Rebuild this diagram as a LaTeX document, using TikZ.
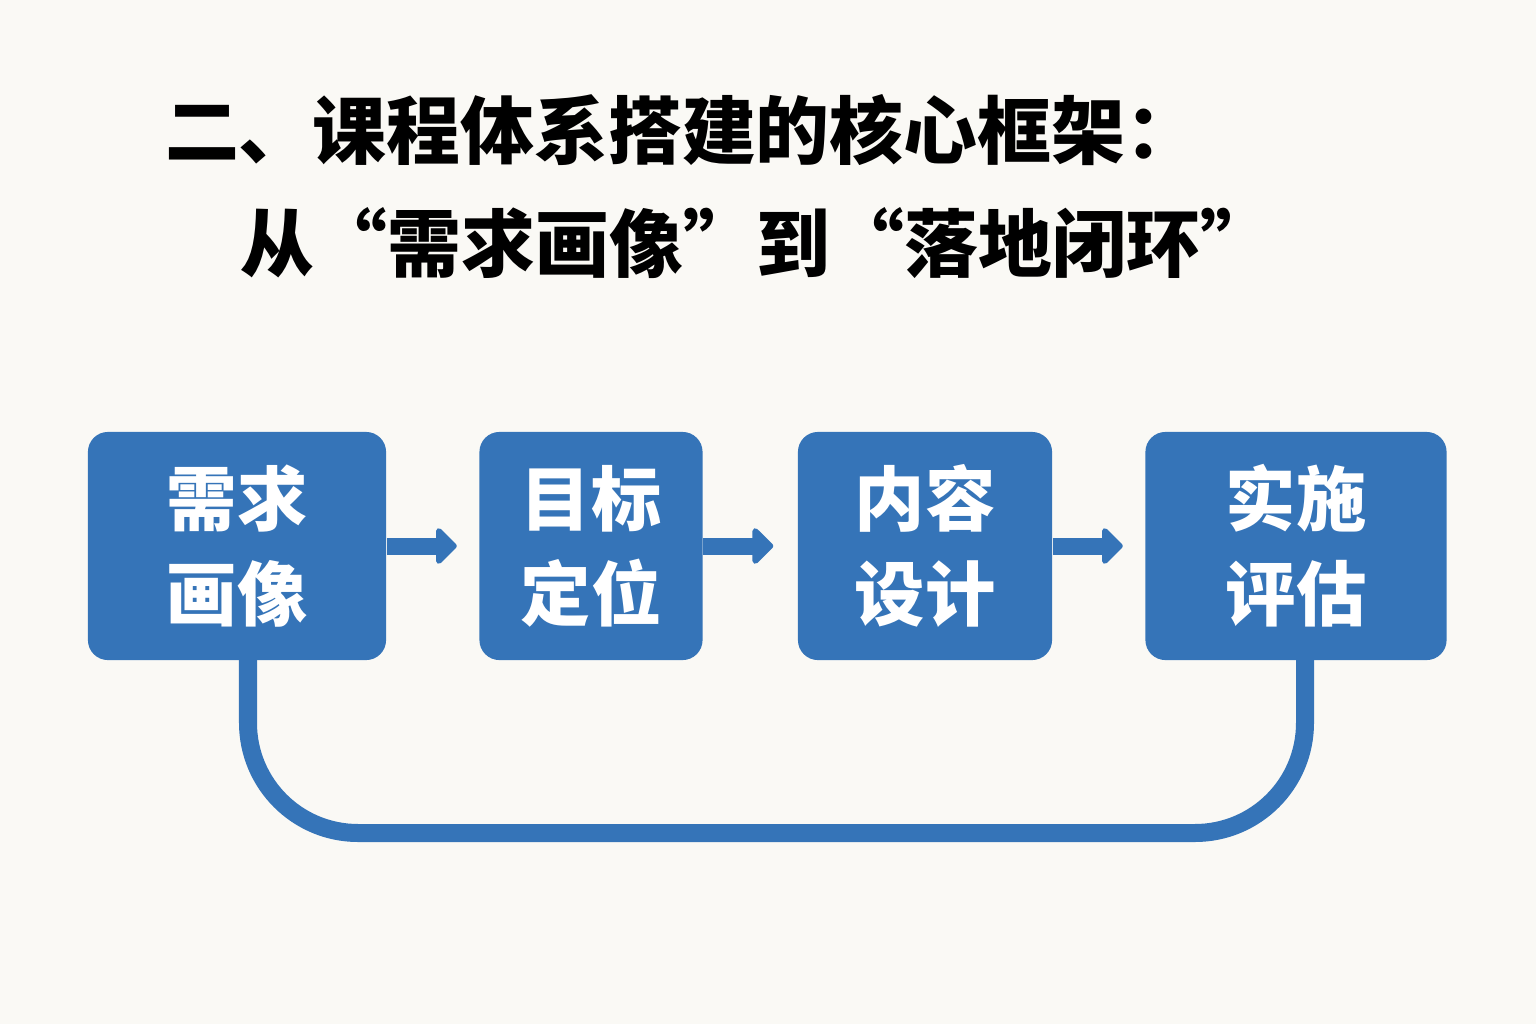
\documentclass[tikz,border=0pt]{standalone}
\usepackage{fontspec}
\newfontfamily\cjk{Noto Sans CJK SC}
\usetikzlibrary{positioning,arrows.meta}
\definecolor{stepblue}{HTML}{3574B8}
\definecolor{paper}{HTML}{FAF9F5}
\begin{document}
\begin{tikzpicture}[x=0.01cm,y=-0.01cm,
  stepbox/.style={fill=stepblue,rounded corners=0.2cm,inner sep=0pt,text=white,
    font=\cjk\bfseries\fontsize{20}{27}\selectfont,align=center},
  flow/.style={stepblue,line width=0.17cm,-{Triangle[length=0.22cm,width=0.42cm,round]}},
  loop/.style={stepblue,line width=0.18cm,rounded corners=1.1cm}]
\fill[paper] (0,0) rectangle (1536,1024);
\node[font=\cjk\bfseries\fontsize{21}{25}\selectfont] (t1) at (682,130) {二、课程体系搭建的核心框架：};
\node[font=\cjk\bfseries\fontsize{21}{25}\selectfont] (t2) at (757,243) {从“需求画像”到“落地闭环”};
\node[stepbox,minimum width=2.98cm,minimum height=2.28cm] (a) at (237,546) {需求\\画像};
\node[stepbox,minimum width=2.23cm,minimum height=2.28cm] (b) at (591,546) {目标\\定位};
\node[stepbox,minimum width=2.54cm,minimum height=2.28cm] (c) at (925,546) {内容\\设计};
\node[stepbox,minimum width=3.01cm,minimum height=2.28cm] (d) at (1296,546) {实施\\评估};
\draw[flow] (a.east) -- ++(70,0);
\draw[flow] (b.east) -- ++(70,0);
\draw[flow] (c.east) -- ++(70,0);
\coordinate (la) at (248,660);
\coordinate (ld) at (1305,660);
\draw[loop] (la) -- (248,833) -- (1305,833) -- (ld);
\end{tikzpicture}
\end{document}
